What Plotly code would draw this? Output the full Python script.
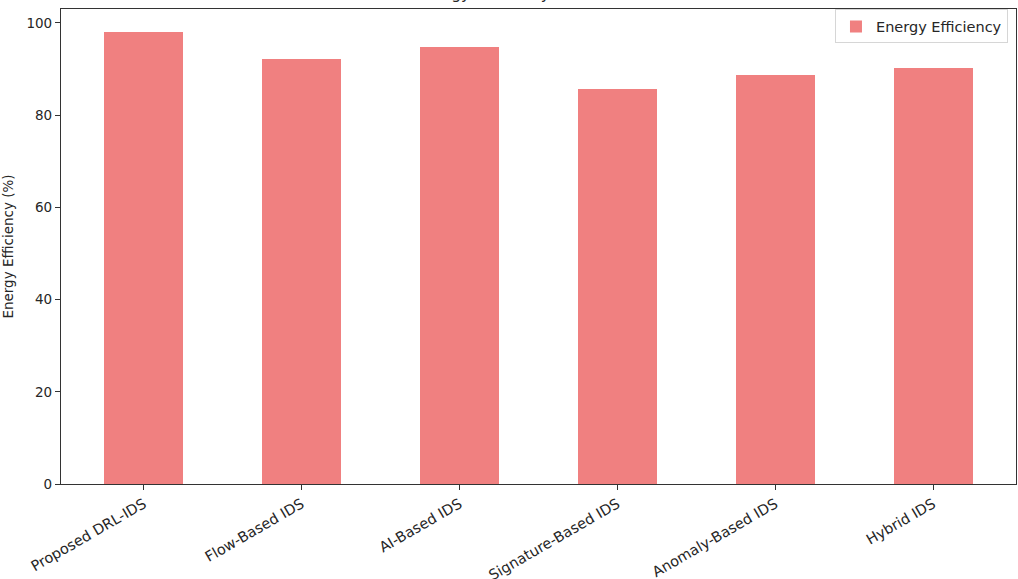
import plotly.graph_objects as go

categories = ["Proposed DRL-IDS", "Flow-Based IDS", "AI-Based IDS",
              "Signature-Based IDS", "Anomaly-Based IDS", "Hybrid IDS"]
efficiency = [98.1, 92.1, 94.7, 85.6, 88.7, 90.3]
y_ticks = [0, 20, 40, 60, 80, 100]
title_text = "Energy Efficiency of IDS Models"
series_name = "Energy Efficiency"

FONT = "DejaVu Sans"
fig = go.Figure()
fig.add_trace(go.Bar(
    x=list(range(len(categories))), y=efficiency, name=series_name,
    width=0.5, marker=dict(color="#F08080", line=dict(width=0)),
    showlegend=True,
))

fig.update_layout(
    width=1018, height=579,
    margin=dict(l=61, r=2, t=9, b=95, autoexpand=False),
    paper_bgcolor="white", plot_bgcolor="white",
    font=dict(family=FONT, size=13, color="#262626"),
    bargap=0,
    showlegend=True,
    legend=dict(x=0.9916, y=0.999, xanchor="right", yanchor="top",
                bgcolor="rgba(255,255,255,0.8)", bordercolor="#d6d6d6",
                borderwidth=1, itemwidth=30,
                font=dict(family=FONT, size=14.5, color="#262626")),
    annotations=[dict(text=title_text, xref="paper", yref="paper", x=0.5, y=1,
                      xanchor="center", yanchor="bottom", yshift=4, showarrow=False,
                      font=dict(family=FONT, size=15.5, color="#262626"))],
)
fig.update_xaxes(
    range=[-0.525, 5.525], tickmode="array", tickvals=list(range(len(categories))),
    ticktext=categories, tickangle=-30, showline=True, mirror=True,
    linecolor="#333333", linewidth=1.2, ticks="outside", ticklen=5, tickcolor="#333333",
    showgrid=False, zeroline=False, automargin=False,
    tickfont=dict(family=FONT, size=14.5),
)
fig.update_yaxes(
    range=[0, 103.0], tickmode="array", tickvals=y_ticks,
    showline=True, mirror=True, linecolor="#333333", linewidth=1.2,
    ticks="outside", ticklen=5, tickcolor="#333333", showgrid=False, zeroline=False,
    automargin=False, tickfont=dict(family=FONT, size=13.5),
    title=dict(text="Energy Efficiency (%)", font=dict(family=FONT, size=13.5), standoff=12),
)
fig.write_html("out.html", config={"displayModeBar": False},
               post_script="document.body.style.margin='0';")
